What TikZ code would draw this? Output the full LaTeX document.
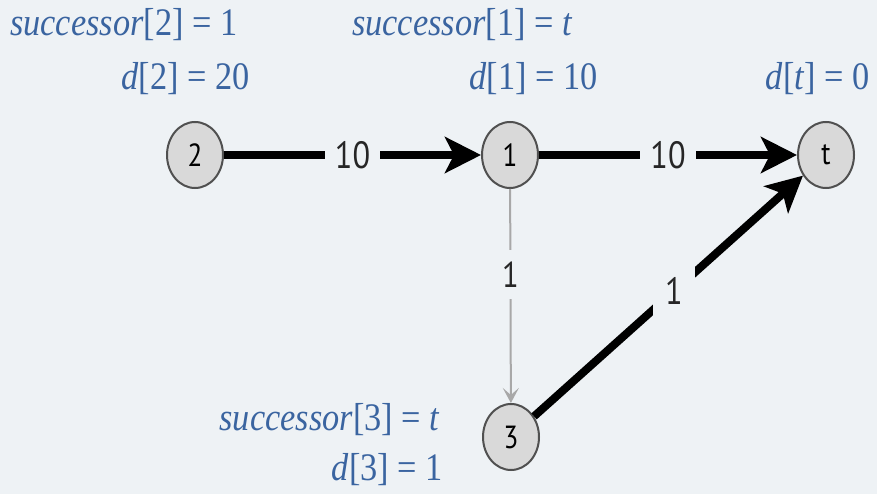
\documentclass[tikz,border=0pt]{standalone}
\usepackage{fontspec}
\setmainfont[FakeStretch=0.88]{Liberation Serif}
\newfontfamily\sansf[FakeStretch=0.85]{PT Sans}
\usetikzlibrary{arrows.meta,shapes.geometric}
\definecolor{bg}{HTML}{EEF2F5}
\definecolor{lblue}{HTML}{3A64A0}
\definecolor{nfill}{HTML}{D9D9D9}
\definecolor{ndraw}{HTML}{505050}
\definecolor{garrow}{HTML}{A8A8A8}
\tikzset{
  vert/.style={ellipse, draw=ndraw, line width=2pt, fill=nfill, minimum width=56pt, minimum height=66pt, inner sep=0pt, font=\sansf\fontsize{32}{32}\selectfont},
  info/.style={text=lblue, font=\fontsize{39}{39}\selectfont, inner sep=0pt},
  heavy/.style={line width=8pt, -{Stealth[length=36pt,width=36pt,inset=9pt]}},
  light/.style={line width=2pt, draw=garrow, -{Stealth[length=15pt,width=16pt,inset=7pt]}},
  wlab/.style={fill=bg, font=\sansf\fontsize{38}{38}\selectfont, inner xsep=10pt, inner ysep=4pt, text=black!85},
  glab/.style={fill=bg, font=\sansf\fontsize{36}{36}\selectfont, inner xsep=4pt, inner ysep=12pt, text=black!85}
}
\begin{document}
\begin{tikzpicture}[x=1pt,y=-1pt]
\fill[bg] (0,0) rectangle (877,494);
\useasboundingbox (0,0) rectangle (877,494);
% vertices
\node[vert] (n2) at (195,155) {2};
\node[vert] (n1) at (510,155) {1};
\node[vert] (nt) at (826,155) {t};
\node[vert] (n3) at (511,437) {3};
% info labels
\node[info, anchor=west] (s2) at (10,25) {\textit{successor}[2] = 1};
\node[info, anchor=east] (d2) at (250,79) {\textit{d}[2] = 20};
\node[info, anchor=west] (s1) at (352,25) {\textit{successor}[1] = \textit{t}};
\node[info, anchor=east] (d1) at (598,79) {\textit{d}[1] = 10};
\node[info, anchor=east] (dt) at (870,79) {\textit{d}[\textit{t}] = 0};
\node[info, anchor=east] (s3) at (440,420) {\textit{successor}[3] = \textit{t}};
\node[info, anchor=east] (d3) at (443,470) {\textit{d}[3] = 1};
% edges
\draw[heavy] (n2) -- node[wlab] (w21) {10} (n1);
\draw[heavy] (n1) -- node[wlab] (w1t) {10} (nt);
\draw[light] (n1) -- node[glab, pos=0.4] (w13) {1} (n3);
\draw[heavy] (n3) -- node[wlab, inner xsep=12pt, inner ysep=12pt, pos=0.52] (w3t) {1} (nt);
\end{tikzpicture}
\end{document}
